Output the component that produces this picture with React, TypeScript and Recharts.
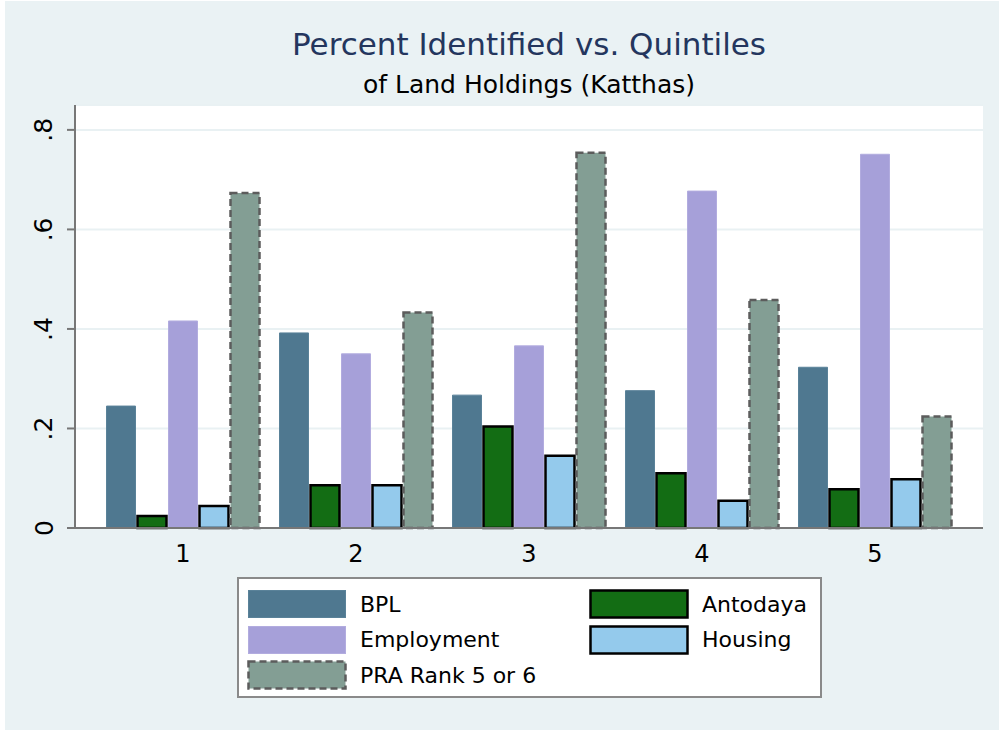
import React from 'react';
import { BarChart, Bar, XAxis, YAxis, CartesianGrid } from 'recharts';

const quintiles = ['1', '2', '3', '4', '5'];
const bpl = [0.245, 0.392, 0.267, 0.276, 0.323];
const antodaya = [0.024, 0.086, 0.204, 0.11, 0.078];
const employment = [0.416, 0.35, 0.366, 0.677, 0.751];
const housing = [0.044, 0.086, 0.145, 0.055, 0.098];
const pra = [0.673, 0.433, 0.754, 0.458, 0.224];
const yTicks = [0, 0.2, 0.4, 0.6, 0.8];

const title = 'Percent Identified vs. Quintiles';
const subtitle = 'of Land Holdings (Katthas)';

const series = [
  { key: 'bpl', name: 'BPL', fill: '#4f7890', stroke: '#5a8299', sw: 1, dash: undefined as string | undefined },
  { key: 'antodaya', name: 'Antodaya', fill: '#136d14', stroke: '#000000', sw: 2.5, dash: undefined },
  { key: 'employment', name: 'Employment', fill: '#a6a0d9', stroke: '#b2acdf', sw: 1, dash: undefined },
  { key: 'housing', name: 'Housing', fill: '#94caec', stroke: '#000000', sw: 2.5, dash: undefined },
  { key: 'pra', name: 'PRA Rank 5 or 6', fill: '#839e94', stroke: '#5c5c5c', sw: 2.5, dash: '7 4' },
];

const data = quintiles.map((q, i) => ({
  q,
  bpl: bpl[i],
  antodaya: antodaya[i],
  employment: employment[i],
  housing: housing[i],
  pra: pra[i],
}));

const FONT = '"DejaVu Sans", sans-serif';

const fmt = (v: number) => (v === 0 ? '0' : String(v).replace(/^0/, ''));

const YTick = (props: any) => {
  const { x, y, payload } = props;
  const cx = x - 21;
  return (
    <text
      x={cx}
      y={y}
      transform={`rotate(-90, ${cx}, ${y})`}
      textAnchor="middle"
      dominantBaseline="central"
      fontFamily={FONT}
      fontSize={25}
      fill="#000"
    >
      {fmt(payload.value)}
    </text>
  );
};

const XTick = (props: any) => {
  const { x, y, payload } = props;
  return (
    <text x={x} y={y + 18} textAnchor="middle" dominantBaseline="central" fontFamily={FONT} fontSize={24} fill="#000">
      {payload.value}
    </text>
  );
};

const Swatch = ({ s }: { s: (typeof series)[number] }) => (
  <svg width={100} height={30} style={{ display: 'block' }}>
    <rect
      x={1.5}
      y={1.5}
      width={97}
      height={27}
      fill={s.fill}
      stroke={s.stroke}
      strokeWidth={s.sw === 1 ? 1 : 2.5}
      strokeDasharray={s.dash}
    />
  </svg>
);

const legendCols = [
  ['bpl', 'employment', 'pra'],
  ['antodaya', 'housing'],
];

export default function App() {
  return (
    <div style={{ position: 'absolute', left: 0, top: 0, width: 999, height: 730, background: '#ffffff', overflow: 'hidden' }}>
      <div style={{ position: 'absolute', left: 5, top: 1, width: 994, height: 729, background: '#eaf2f4' }} />
      <div
        style={{
          position: 'absolute',
          left: 0,
          width: 1058,
          top: 25,
          textAlign: 'center',
          fontFamily: FONT,
          fontSize: 31,
          color: '#24365e',
          lineHeight: '38px',
          whiteSpace: 'nowrap',
        }}
      >
        {title}
      </div>
      <div
        style={{
          position: 'absolute',
          left: 0,
          width: 1058,
          top: 70,
          textAlign: 'center',
          fontFamily: FONT,
          fontSize: 25,
          color: '#000',
          lineHeight: '30px',
          whiteSpace: 'nowrap',
        }}
      >
        {subtitle}
      </div>
      <div style={{ position: 'absolute', left: 0, top: 0 }}>
        <BarChart
          width={999}
          height={730}
          data={data}
          margin={{ top: 105, right: 16, bottom: 162, left: 5 }}
          barSize={29}
          barGap={2}
        >
          <CartesianGrid vertical={false} stroke="#e9f1f3" strokeWidth={2} fill="#ffffff" />
          <XAxis
            dataKey="q"
            height={40}
            padding={{ left: 21.5, right: 21.5 }}
            tickLine={false}
            axisLine={{ stroke: '#777777', strokeWidth: 2 }}
            tick={<XTick />}
            interval={0}
          />
          <YAxis
            width={70}
            domain={[0, 0.85]}
            ticks={yTicks}
            tickSize={8}
            tickLine={{ stroke: '#777777', strokeWidth: 2 }}
            axisLine={{ stroke: '#777777', strokeWidth: 2 }}
            tick={<YTick />}
            interval={0}
          />
          {series.map((s) => (
            <Bar
              key={s.key}
              dataKey={s.key}
              name={s.name}
              fill={s.fill}
              stroke={s.stroke}
              strokeWidth={s.sw}
              strokeDasharray={s.dash}
              isAnimationActive={false}
            />
          ))}
        </BarChart>
      </div>
      <div
        style={{
          position: 'absolute',
          left: 237,
          top: 577,
          width: 581,
          height: 117,
          background: '#ffffff',
          border: '2px solid #8a8a8a',
          fontFamily: FONT,
          fontSize: 22,
          color: '#000',
        }}
      >
        {legendCols.map((col, ci) =>
          col.map((k, ri) => {
            const s = series.find((x) => x.key === k)!;
            const top = 10 + ri * 35.5;
            const left = ci === 0 ? 8 : 350;
            return (
              <div key={k} style={{ position: 'absolute', left, top, display: 'flex', alignItems: 'center', height: 30 }}>
                <Swatch s={s} />
                <span style={{ marginLeft: 13, whiteSpace: 'nowrap' }}>{s.name}</span>
              </div>
            );
          })
        )}
      </div>
    </div>
  );
}
